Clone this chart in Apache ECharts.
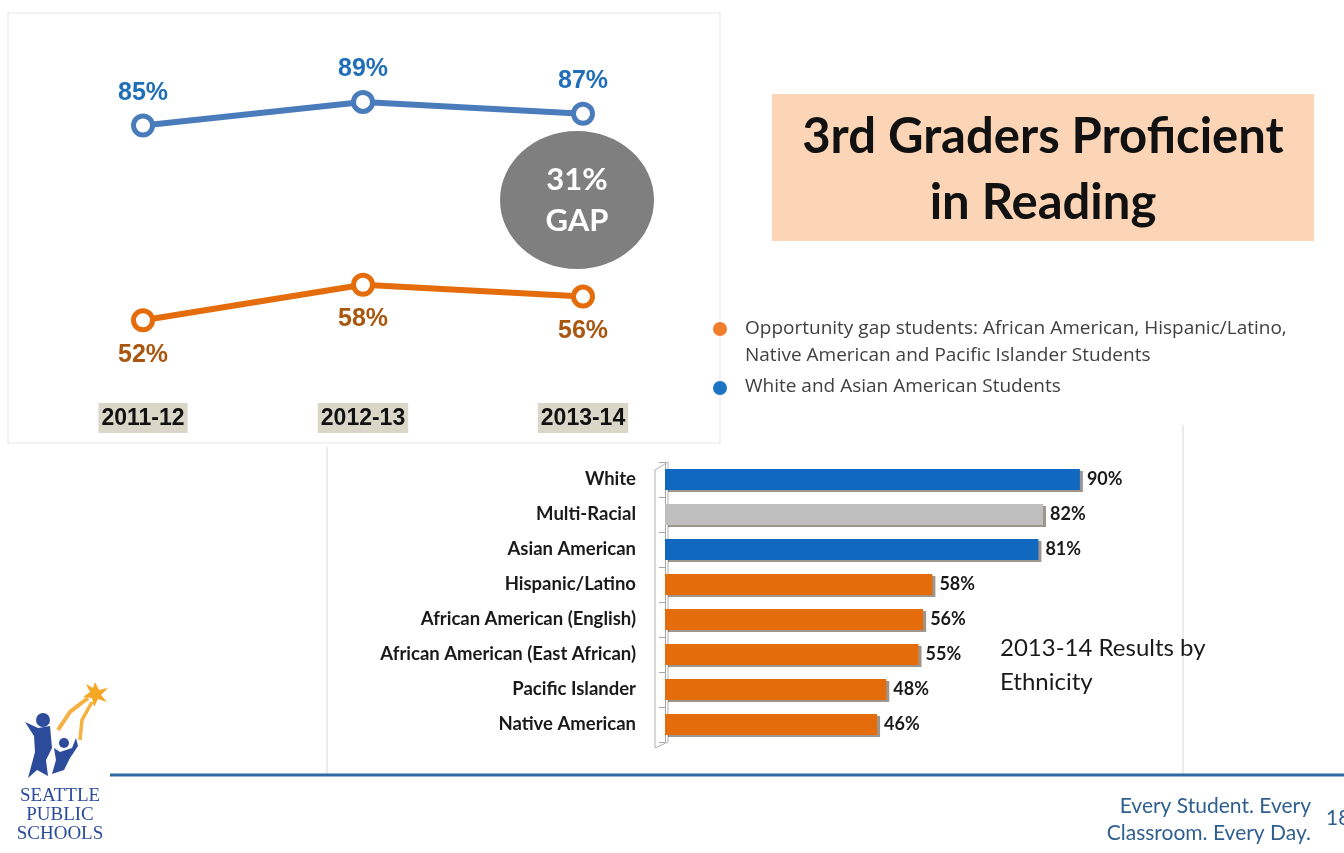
<!DOCTYPE html>
<html>
<head>
<meta charset="utf-8">
<title>3rd Graders Proficient in Reading</title>
<script src="https://cdn.jsdelivr.net/npm/echarts@6/dist/echarts.min.js"></script>
<style>
  html, body { margin: 0; padding: 0; background: #fff; }
  #chart { width: 1344px; height: 853px; }
</style>
</head>
<body>
<div id="chart"></div>
<script>
// trend over three school years
const years = ['2011-12', '2012-13', '2013-14'];
const whiteAsian = [85, 89, 87];
const gapStudents = [52, 58, 56];
const whiteAsianName = 'White and Asian American Students';
const gapName = 'Opportunity gap students: African American, Hispanic/Latino, Native American and Pacific Islander Students';

// 2013-14 results by ethnicity
const ethnicities = ['White', 'Multi-Racial', 'Asian American', 'Hispanic/Latino',
  'African American (English)', 'African American (East African)', 'Pacific Islander', 'Native American'];
const ethnicityValues = [90, 82, 81, 58, 56, 55, 48, 46];
const ethnicityGroup = ['wa', 'multi', 'wa', 'gap', 'gap', 'gap', 'gap', 'gap'];

const BLUE = '#4A7CBC';
const ORANGE = '#E46C0A';
const groupColor = { wa: '#1068C0', multi: '#BFBFBF', gap: '#E46C0A' };

const chart = echarts.init(document.getElementById('chart'));

const gap = whiteAsian[2] - gapStudents[2];

const option = {
  backgroundColor: '#ffffff',
  animation: false,
  grid: [
    { left: 33, top: 37, width: 660, height: 354 },
    { left: 665, top: 462, width: 461, height: 280 }
  ],
  xAxis: [
    {
      gridIndex: 0,
      type: 'category',
      data: years,
      boundaryGap: true,
      axisLine: { show: false },
      axisTick: { show: false },
      axisLabel: {
        margin: 12,
        color: '#111',
        fontFamily: 'Liberation Sans',
        fontWeight: 'bold',
        fontSize: 23,
        backgroundColor: '#DAD6C8',
        padding: [4, 3, 3, 3]
      }
    },
    {
      gridIndex: 1,
      type: 'value',
      min: 0,
      max: 100,
      show: false
    }
  ],
  yAxis: [
    { gridIndex: 0, type: 'value', min: 40, max: 100, show: false },
    {
      gridIndex: 1,
      type: 'category',
      data: ethnicities,
      inverse: true,
      axisLine: { show: true, lineStyle: { color: '#A6A6A6', width: 1 } },
      axisTick: { show: true, length: 6, lineStyle: { color: '#A6A6A6' } },
      axisLabel: {
        margin: 29,
        color: '#1a1a1a',
        fontFamily: 'Lato',
        fontWeight: 'bold',
        fontSize: 18.5
      }
    }
  ],
  series: [
    {
      name: whiteAsianName,
      type: 'line',
      xAxisIndex: 0,
      yAxisIndex: 0,
      data: whiteAsian,
      symbol: 'circle',
      symbolSize: 19,
      lineStyle: { color: BLUE, width: 6 },
      itemStyle: { color: '#ffffff', borderColor: BLUE, borderWidth: 5 },
      label: {
        show: true,
        position: 'top',
        distance: 8,
        formatter: '{c}%',
        color: '#1F6FB8',
        fontFamily: 'Liberation Sans',
        fontWeight: 'bold',
        fontSize: 25
      }
    },
    {
      name: gapName,
      type: 'line',
      xAxisIndex: 0,
      yAxisIndex: 0,
      data: gapStudents,
      symbol: 'circle',
      symbolSize: 19,
      lineStyle: { color: ORANGE, width: 6 },
      itemStyle: { color: '#ffffff', borderColor: ORANGE, borderWidth: 5 },
      label: {
        show: true,
        position: 'bottom',
        distance: 10,
        formatter: '{c}%',
        color: '#A9560F',
        fontFamily: 'Liberation Sans',
        fontWeight: 'bold',
        fontSize: 25
      }
    },
    {
      name: '2013-14 Results by Ethnicity',
      type: 'bar',
      xAxisIndex: 1,
      yAxisIndex: 1,
      barWidth: 21,
      data: ethnicityValues.map((v, i) => ({
        value: v,
        itemStyle: { color: groupColor[ethnicityGroup[i]] }
      })),
      itemStyle: {
        shadowColor: 'rgba(40,20,0,0.45)',
        shadowBlur: 0,
        shadowOffsetX: 3,
        shadowOffsetY: 2
      },
      label: {
        show: true,
        position: 'right',
        distance: 7,
        formatter: '{c}%',
        color: '#1a1a1a',
        fontFamily: 'Lato',
        fontWeight: 'bold',
        fontSize: 18
      }
    }
  ],
  graphic: [
    // panel outlines
    { type: 'rect', z: 0, shape: { x: 8, y: 13, width: 712, height: 430 },
      style: { fill: 'none', stroke: '#EEEEEE', lineWidth: 1.5 } },
    { type: 'line', z: 0, shape: { x1: 327, y1: 447, x2: 327, y2: 775 },
      style: { stroke: '#DDDDDD', lineWidth: 1.2 } },
    { type: 'line', z: 0, shape: { x1: 1183, y1: 425, x2: 1183, y2: 775 },
      style: { stroke: '#DDDDDD', lineWidth: 1.2 } },
    // 3d wall back edge of the bar chart
    { type: 'polyline', z: 1, shape: { points: [[655, 748], [655, 470], [668, 462], [668, 742], [655, 748]] },
      style: { fill: 'none', stroke: '#B0B0B0', lineWidth: 1 } },

    // gap bubble
    { type: 'ellipse', z: 5, shape: { cx: 577, cy: 200, rx: 77, ry: 69 },
      style: { fill: '#7F7F7F' } },
    { type: 'text', z: 6, x: 577, y: 200,
      style: { text: gap + '%\nGAP', fill: '#ffffff', font: 'bold 31px Lato',
        align: 'center', verticalAlign: 'middle', lineHeight: 41 } },

    // title box
    { type: 'rect', z: 2, shape: { x: 772, y: 94, width: 542, height: 147 },
      style: { fill: '#FBD5B5' } },
    { type: 'text', z: 3, x: 1043, y: 170,
      style: { text: '3rd Graders Proficient\nin Reading', fill: '#111111',
        font: 'bold 49px Lato', align: 'center', verticalAlign: 'middle', lineHeight: 66 } },

    // legend
    { type: 'circle', z: 3, shape: { cx: 720, cy: 329, r: 7 }, style: { fill: '#F07E2C' } },
    { type: 'text', z: 3, x: 745, y: 342,
      style: { text: gapName.replace('Latino, ', 'Latino,\n'), fill: '#404040',
        font: '19px "Open Sans"', align: 'left', verticalAlign: 'middle', lineHeight: 27 } },
    { type: 'circle', z: 3, shape: { cx: 720, cy: 388, r: 7 }, style: { fill: '#1B75C4' } },
    { type: 'text', z: 3, x: 745, y: 387,
      style: { text: whiteAsianName, fill: '#404040',
        font: '19px "Open Sans"', align: 'left', verticalAlign: 'middle' } },

    // caption next to the bars
    { type: 'text', z: 3, x: 1000, y: 665,
      style: { text: '2013-14 Results by\nEthnicity', fill: '#1a1a1a',
        font: '24px Lato', align: 'left', verticalAlign: 'middle', lineHeight: 34 } },

    // footer
    { type: 'line', z: 3, shape: { x1: 110, y1: 775, x2: 1344, y2: 775 },
      style: { stroke: '#2F6AA3', lineWidth: 3 } },
    { type: 'text', z: 3, x: 1311, y: 820,
      style: { text: 'Every Student. Every\nClassroom. Every Day.', fill: '#2F5F8E',
        font: '21px Lato', align: 'right', verticalAlign: 'middle', lineHeight: 27 } },
    { type: 'text', z: 3, x: 1326, y: 818,
      style: { text: '18', fill: '#2F5F8E', font: '21px Lato', align: 'left', verticalAlign: 'middle' } },

    // Seattle Public Schools logo (simplified)
    { type: 'polygon', z: 3, shape: { points: [[95, 682], [99, 690], [108, 688], [101, 695], [107, 702], [98, 699], [94, 707], [92, 698], [83, 697], [90, 692], [86, 684], [93, 688]] },
      style: { fill: '#F5A623' } },
    { type: 'polyline', z: 3, shape: { points: [[88, 698], [70, 712], [58, 730]] },
      style: { stroke: '#F5B041', lineWidth: 4, fill: 'none' } },
    { type: 'polyline', z: 3, shape: { points: [[92, 702], [82, 720], [80, 740]] },
      style: { stroke: '#F5B041', lineWidth: 3.5, fill: 'none' } },
    { type: 'circle', z: 3, shape: { cx: 43, cy: 720, r: 7 }, style: { fill: '#2C4B9B' } },
    { type: 'polygon', z: 3, shape: { points: [[25, 722], [38, 728], [50, 726], [52, 748], [46, 760], [48, 776], [37, 770], [28, 778], [35, 752], [34, 736]] },
      style: { fill: '#2C4B9B' } },
    { type: 'circle', z: 3, shape: { cx: 64, cy: 743, r: 5 }, style: { fill: '#2C4B9B' } },
    { type: 'polygon', z: 3, shape: { points: [[54, 748], [60, 752], [72, 748], [76, 738], [78, 746], [70, 758], [64, 770], [52, 774], [56, 760]] },
      style: { fill: '#2C4B9B' } },
    { type: 'text', z: 3, x: 60, y: 815,
      style: { text: 'SEATTLE\nPUBLIC\nSCHOOLS', fill: '#2C4B9B',
        font: '19px "Liberation Serif"', align: 'center', verticalAlign: 'middle', lineHeight: 19 } }
  ]
};

chart.setOption(option);
</script>
</body>
</html>
